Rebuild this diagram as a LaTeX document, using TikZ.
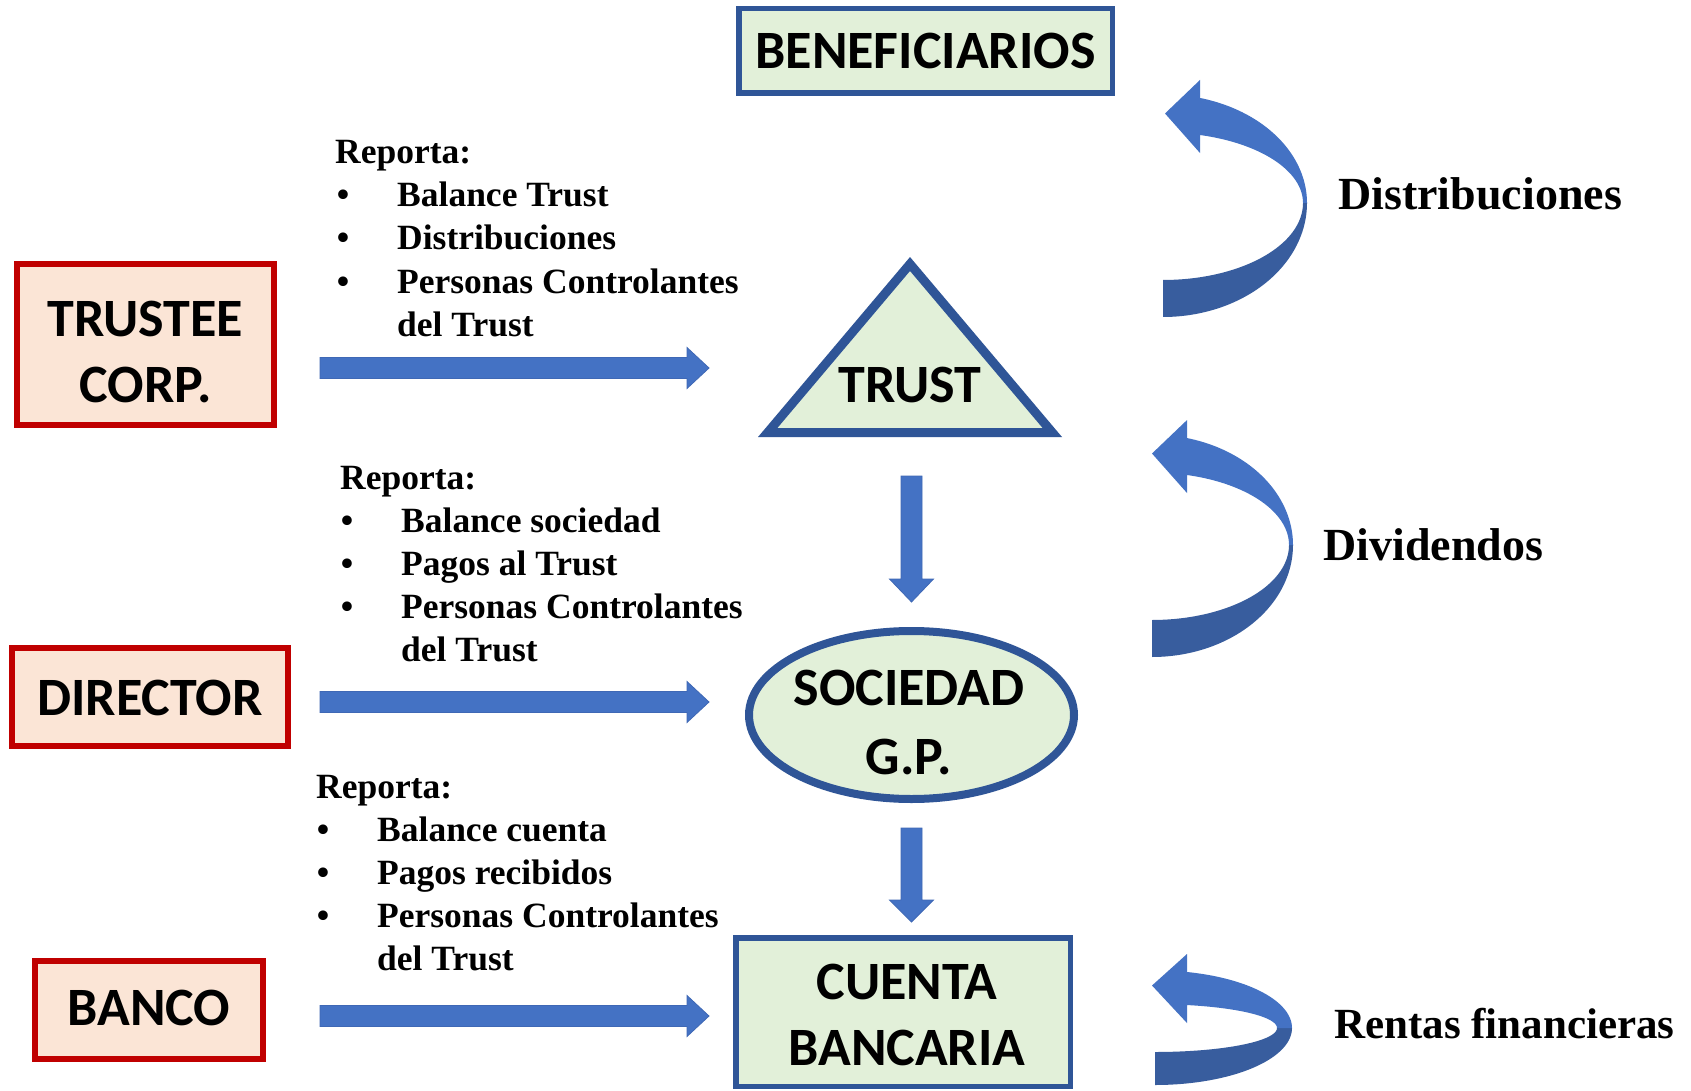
\documentclass[tikz,border=0pt]{standalone}
\usepackage{fontspec}
\setmainfont{Liberation Serif}
\newfontfamily\boxfont{Carlito}
\usetikzlibrary{shapes.geometric}
\definecolor{boxblue}{HTML}{2F5597}
\definecolor{boxgreen}{HTML}{E2F0D9}
\definecolor{boxred}{HTML}{C00000}
\definecolor{peach}{HTML}{FBE5D6}
\definecolor{arrowblue}{HTML}{4472C4}
\definecolor{arrowedge}{HTML}{3F68B5}
\definecolor{ribbondarkc}{HTML}{385D9E}

\newcommand{\ribbon}[9]{%
 \pgfmathsetmacro\rbAo{-acos((#9-#1)/#3)}%
 \pgfmathsetmacro\rbAi{-acos((#9-#1)/#4)}%
 \pgfmathsetmacro\rbYo{#2+#5*sin(\rbAo)}%
 \pgfmathsetmacro\rbYi{#2+#6*sin(\rbAi)}%
 \pgfmathsetmacro\rbYm{(\rbYo+\rbYi)/2-3}%
 \pgfmathsetmacro\rbTx{#9-35}%
 \fill[ribbondarkc] plot[domain=0:90,samples=50] ({#1+#3*cos(\x)},{#2+#7*sin(\x)})
   -- plot[domain=90:0,samples=50] ({#1+#4*cos(\x)},{#2+#8*sin(\x)}) -- cycle;
 \fill[arrowblue] (#9,\rbYo) -- (#9,\rbYo-18) -- (\rbTx,\rbYm) -- (#9,\rbYi+18)
   -- plot[domain=\rbAi:0,samples=50] ({#1+#4*cos(\x)},{#2+#6*sin(\x)})
   -- plot[domain=0:\rbAo,samples=50] ({#1+#3*cos(\x)},{#2+#5*sin(\x)}) -- cycle;
}
\newcommand{\harrow}[4]{% x1, xheadbase, xtip, y
 \filldraw[blockarrow] (#1,#4-10.5) -- (#2,#4-10.5) -- (#2,#4-20.5) -- (#3,#4)
   -- (#2,#4+20.5) -- (#2,#4+10.5) -- (#1,#4+10.5) -- cycle;}
\newcommand{\varrow}[4]{% x, ytop, yheadbase, ytip
 \filldraw[blockarrow] (#1-10.5,#2) -- (#1+10.5,#2) -- (#1+10.5,#3) -- (#1+22,#3)
   -- (#1,#4) -- (#1-22,#3) -- (#1-10.5,#3) -- cycle;}

\begin{document}
\begin{tikzpicture}[x=1pt,y=-1pt,
  greenbox/.style={draw=boxblue, fill=boxgreen, line width=5.5pt, inner sep=0pt, outer sep=0pt},
  redbox/.style={draw=boxred, fill=peach, line width=6pt, inner sep=0pt, outer sep=0pt},
  boxtext/.style={font=\boxfont\bfseries\fontsize{54}{66}\selectfont, align=center, inner sep=0pt},
  rep/.style={font=\bfseries\fontsize{35.5}{43}\selectfont, anchor=base west, inner sep=0pt},
  bul/.style={font=\bfseries\fontsize{35.5}{43}\selectfont, anchor=base, inner sep=0pt},
  side/.style={font=\bfseries\fontsize{46}{50}\selectfont, anchor=west, inner sep=0pt},
  blockarrow/.style={fill=arrowblue, draw=arrowedge, line width=0.8pt, line join=miter}
]
\useasboundingbox (0,0) rectangle (1691,1091);
\fill[white] (0,0) rectangle (1691,1091);

% Beneficiarios
\node[greenbox, minimum width=373.5pt, minimum height=84.5pt] (benef) at (925.5,51) {};
\node[boxtext] (beneftxt) at (925.5,51) {BENEFICIARIOS};

% Left boxes
\node[redbox, minimum width=257pt, minimum height=161pt] (trustee) at (145.5,344.5) {};
\node[boxtext] (trusteetxt) at (145.5,351.5) {TRUSTEE\\CORP.};
\node[redbox, minimum width=276pt, minimum height=98pt] (director) at (150,697) {};
\node[boxtext] (directortxt) at (150,698) {DIRECTOR};
\node[redbox, minimum width=228pt, minimum height=98pt] (banco) at (149,1010) {};
\node[boxtext] (bancotxt) at (149,1008) {BANCO};

% Trust triangle
\draw[draw=boxblue, fill=boxgreen, line width=9pt, line join=miter]
  (910,264) -- (1052.3,432.5) -- (767.7,432.5) -- cycle;
\node[boxtext] (trust) at (910,385) {TRUST};

% Sociedad ellipse
\node[ellipse, draw=boxblue, fill=boxgreen, line width=8pt, inner sep=0pt,
      minimum width=325pt, minimum height=168pt] (sociedad) at (911.5,715) {};
\node[boxtext, font=\boxfont\bfseries\fontsize{54}{69}\selectfont] (sociedadtxt) at (909,722.5) {SOCIEDAD\\G.P.};

% Cuenta bancaria
\node[greenbox, minimum width=334.5pt, minimum height=148.5pt] (cuenta) at (903,1012) {};
\node[boxtext] (cuentatxt) at (907,1015) {CUENTA\\BANCARIA};

% Straight block arrows
\harrow{320}{687}{709}{368}
\harrow{320}{687}{709}{702}
\harrow{320}{687}{709}{1016}
\varrow{911.5}{476}{579}{602}
\varrow{911.5}{828}{900}{922}

% Report texts, block 1
\node[rep] (r1) at (335,164) {Reporta:};
\node[bul] (r1b1) at (343,207) {•};
\node[bul] (r1b2) at (343,250) {•};
\node[bul] (r1b3) at (343,293) {•};
\node[rep] (r1i1) at (397,207) {Balance Trust};
\node[rep] (r1i2) at (397,250) {Distribuciones};
\node[rep] (r1i3) at (397,293) {Personas Controlantes};
\node[rep] (r1i4) at (397,336) {del Trust};

% block 2
\node[rep] (r2) at (340,489) {Reporta:};
\node[bul] (r2b1) at (347,532) {•};
\node[bul] (r2b2) at (347,575) {•};
\node[bul] (r2b3) at (347,618) {•};
\node[rep] (r2i1) at (401,532) {Balance sociedad};
\node[rep] (r2i2) at (401,575) {Pagos al Trust};
\node[rep] (r2i3) at (401,618) {Personas Controlantes};
\node[rep] (r2i4) at (401,661) {del Trust};

% block 3
\node[rep] (r3) at (316,798) {Reporta:};
\node[bul] (r3b1) at (323,841) {•};
\node[bul] (r3b2) at (323,884) {•};
\node[bul] (r3b3) at (323,927) {•};
\node[rep] (r3i1) at (377,841) {Balance cuenta};
\node[rep] (r3i2) at (377,884) {Pagos recibidos};
\node[rep] (r3i3) at (377,927) {Personas Controlantes};
\node[rep] (r3i4) at (377,970) {del Trust};

% Curved ribbon arrows
\ribbon{1163}{203}{144}{140}{108.7}{70.5}{114}{77}{1200}
\ribbon{1152}{545}{141}{137}{110.4}{72.4}{112}{75}{1187}
\ribbon{1155}{1028}{137}{122}{57.6}{23.8}{57}{24}{1187}

% Side labels
\node[side] (distrib) at (1338,194) {Distribuciones};
\node[side] (divid) at (1323,545) {Dividendos};
\node[side, font=\bfseries\fontsize{43}{50}\selectfont] (rentas) at (1334,1024) {Rentas financieras};
\end{tikzpicture}
\end{document}
